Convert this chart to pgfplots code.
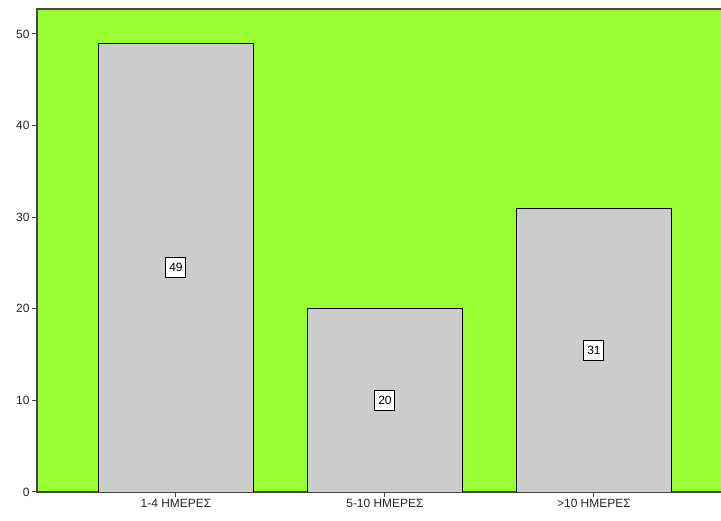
\documentclass[border=0pt]{standalone}
\usepackage{pgfplots}
\pgfplotsset{compat=1.18}
\usepackage{fontspec}
\setmainfont{Liberation Sans}
\definecolor{plotbg}{RGB}{153,255,51}
\definecolor{barfill}{RGB}{204,204,204}
\definecolor{framegray}{RGB}{70,70,70}
\begin{document}
\begin{tikzpicture}[x=1bp,y=1bp]
\path[use as bounding box] (0,0) rectangle (721,521);
\begin{axis}[
  at={(37bp,29bp)}, anchor=south west,
  scale only axis, width=690bp, height=483bp,
  xmin=-0.665, xmax=2.637, ymin=0, ymax=52.73,
  axis background/.style={fill=plotbg},
  axis line style={framegray, line width=1.3bp},
  tick align=outside,
  major tick length=5bp,
  every tick/.style={framegray, line width=1bp},
  xtick={0,1,2},
  xticklabels={1-4 ΗΜΕΡΕΣ, 5-10 ΗΜΕΡΕΣ, >10 ΗΜΕΡΕΣ},
  ytick={0,10,20,30,40,50},
  xtick pos=bottom, ytick pos=left,
  ticklabel style={font=\fontsize{12}{14}\selectfont, text=black!85},
  yticklabel style={xshift=1bp},
  xticklabel style={yshift=1bp},
  /pgf/number format/assume math mode=true,
  ybar, bar width=0.746,
  visualization depends on=rawy \as \rawy,
  nodes near coords,
  every node near coord/.append style={
    anchor=center, shift={(axis direction cs:0,-\rawy/2)},
    fill=white, draw=black, line width=1bp, inner sep=3bp,
    minimum height=20bp, minimum width=20bp,
    font=\fontsize{12}{14}\selectfont},
]
\addplot[fill=barfill, draw=black, line width=0.9bp] coordinates {(0,49) (1,20) (2,31)};
\end{axis}
\end{tikzpicture}
\end{document}
